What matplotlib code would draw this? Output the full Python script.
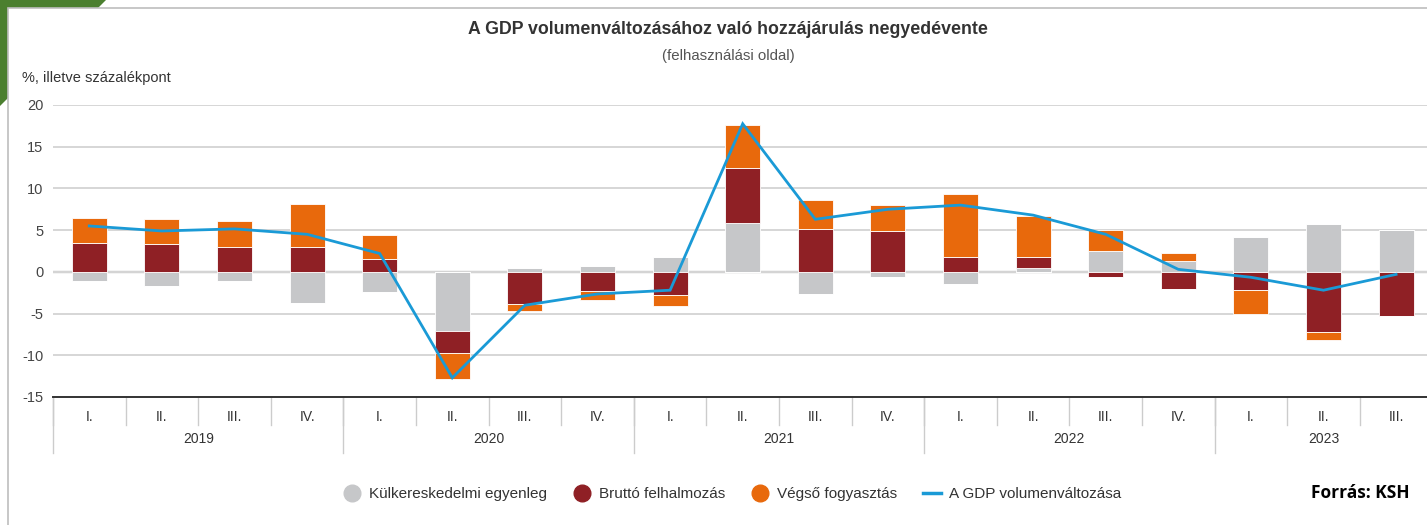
import numpy as np
import matplotlib
matplotlib.use("Agg")
import matplotlib.pyplot as plt
from matplotlib.lines import Line2D
from matplotlib.patches import Polygon, Rectangle

plt.rcParams['font.family'] = ['Liberation Sans', 'DejaVu Sans']
plt.rcParams['axes.unicode_minus'] = False

# adatok (leolvasva az ábráról)
negyedevek = ['I.', 'II.', 'III.', 'IV.'] * 4 + ['I.', 'II.', 'III.']
evek = ['2019', '2020', '2021', '2022', '2023']
kulker = [-1.1, -1.75, -1.1, -3.7, -2.4, -7.1, 0.5, 0.7, 1.75, 5.9,
          -2.65, -0.6, -1.4, 0.5, 2.55, 1.3, 4.2, 5.7, 5.05]
brutto = [3.5, 3.3, 3.0, 3.0, 1.6, -2.65, -3.9, -2.3, -2.8, 6.6,
          5.15, 4.95, 1.8, 1.3, -0.65, -2.05, -2.2, -7.15, -5.3]
vegso = [2.9, 3.05, 3.1, 5.1, 2.85, -3.05, -0.8, -1.1, -1.3, 5.05,
         3.45, 3.1, 7.5, 4.9, 2.45, 0.95, -2.9, -1.05, 0.0]
gdp = [5.5, 4.9, 5.15, 4.5, 2.2, -12.7, -4.0, -2.65, -2.2, 17.75,
       6.3, 7.5, 8.0, 6.8, 4.5, 0.3, -0.65, -2.2, -0.3]

nevek = ['Külkereskedelmi egyenleg', 'Bruttó felhalmozás', 'Végső fogyasztás']
szinek = ['#c6c7c9', '#8f2025', '#e8690c']
kek = '#1a9ad6'

W, H = 1427, 525
fig = plt.figure(figsize=(W / 100, H / 100), dpi=100)

# háttér: zöld sarok + keret
bg = fig.add_axes([0, 0, 1, 1], zorder=0)
bg.set_xlim(0, W)
bg.set_ylim(H, 0)
bg.axis('off')
bg.add_patch(Polygon([[0, 0], [106, 0], [0, 106]], closed=True,
                     facecolor='#4b7f2f', edgecolor='none'))
bg.add_patch(Rectangle((8, 8), W, H, facecolor='white',
                       edgecolor='#bdbdbd', linewidth=1.2))

# fő ábra
ax_left, ax_top, ax_bottom = 53, 105, 397
ax_w = 19 * 72.6
ax = fig.add_axes([ax_left / W, 1 - ax_bottom / H, ax_w / W,
                   (ax_bottom - ax_top) / H], zorder=1)
ax.patch.set_alpha(0)

x = np.arange(len(gdp))
pos_base = np.zeros(len(x))
neg_base = np.zeros(len(x))
for vals, szin in zip([kulker, brutto, vegso], szinek):
    v = np.array(vals)
    pos = np.where(v > 0, v, 0)
    neg = np.where(v < 0, v, 0)
    ax.bar(x, pos, 0.48, bottom=pos_base, color=szin, edgecolor='white',
           linewidth=0.6, zorder=2)
    ax.bar(x, neg, 0.48, bottom=neg_base, color=szin, edgecolor='white',
           linewidth=0.6, zorder=2)
    pos_base += pos
    neg_base += neg

ax.plot(x, gdp, color=kek, lw=2.0, zorder=3, solid_joinstyle='miter')

ax.set_xlim(-0.5, 18.5)
ax.set_ylim(-15, 20)
ax.set_yticks(range(-15, 21, 5))
ax.grid(axis='y', color='#d6d6d6', lw=1.4, zorder=0)
ax.axhline(0, color='#9a9a9a', lw=1.6, zorder=1)
ax.tick_params(axis='y', length=0, pad=7, labelsize=10.5, labelcolor='#444444')
ax.set_xticks([])
for s in ['top', 'right', 'left']:
    ax.spines[s].set_visible(False)
ax.spines['bottom'].set_color('#333333')
ax.spines['bottom'].set_linewidth(1.4)

# kategória tengely
tr = ax.get_xaxis_transform()
h = ax_bottom - ax_top
for i, lab in enumerate(negyedevek):
    ax.text(i, -20 / h, lab, transform=tr, ha='center', va='center',
            fontsize=10, color='#333333')
    ax.plot([i - 0.5, i - 0.5], [0, -28 / h], transform=tr, color='#cccccc',
            lw=1, clip_on=False)
starts = [0, 4, 8, 12, 16]
ends = [4, 8, 12, 16, 19]
for ev, s, e in zip(evek, starts, ends):
    ax.text((s + e - 1) / 2, -42 / h, ev, transform=tr, ha='center',
            va='center', fontsize=10, color='#333333')
    ax.plot([s - 0.5, s - 0.5], [0, -56 / h], transform=tr, color='#cccccc',
            lw=1, clip_on=False)

# címek
fig.text(728 / W, 1 - 30 / H,
         'A GDP volumenváltozásához való hozzájárulás negyedévente',
         ha='center', va='center', fontsize=12.8, fontweight='bold',
         color='#333333')
fig.text(728 / W, 1 - 56 / H, '(felhasználási oldal)', ha='center',
         va='center', fontsize=10.8, color='#555555')
fig.text(22 / W, 1 - 78 / H, '%, illetve százalékpont', ha='left',
         va='center', fontsize=10.5, color='#333333')

# jelmagyarázat
handles = [Line2D([], [], marker='o', ls='none', markersize=12, color=c)
           for c in szinek]
handles.append(Line2D([], [], color=kek, lw=2.5))
fig.legend(handles, nevek + ['A GDP volumenváltozása'], loc='center',
           bbox_to_anchor=(732 / W, 1 - 494 / H), ncol=4, frameon=False,
           fontsize=11, handlelength=1.2, handletextpad=0.5,
           columnspacing=1.7, labelcolor='#333333')

fig.text(1410 / W, 1 - 493 / H, 'Forrás: KSH', ha='right', va='center',
         fontsize=12.5, fontweight='bold', family=['Open Sans', 'DejaVu Sans'],
         color='black')

fig.savefig('out.png', dpi=100)
